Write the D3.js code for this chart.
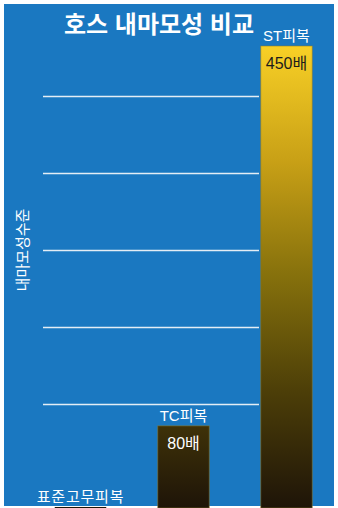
<!DOCTYPE html>
<html>
<head>
<meta charset="utf-8">
<script src="https://cdn.jsdelivr.net/npm/d3@7"></script>
<style>
  html, body { margin: 0; padding: 0; background: #ffffff; }
  svg { display: block; }
  text { font-family: "Liberation Sans", "Noto Sans CJK KR", sans-serif; }
</style>
</head>
<body>
<div id="chart"></div>
<script>
const categories = ["표준고무피복", "TC피복", "ST피복"];
const values = [1, 80, 450];
const valueLabels = ["", "80배", "450배"];
const gridTicks = [100, 175, 250, 325, 400];
const title = "호스 내마모성 비교";
const yTitle = "내마모성수준";

const W = 338, H = 508;
const svg = d3.select("#chart").append("svg").attr("width", W).attr("height", H);

const defs = svg.append("defs");
const grad = defs.append("linearGradient")
  .attr("id", "barGrad").attr("gradientUnits", "userSpaceOnUse")
  .attr("x1", 0).attr("y1", 46).attr("x2", 0).attr("y2", 508);
grad.append("stop").attr("offset", "0%").attr("stop-color", "#f8d026");
grad.append("stop").attr("offset", "25%").attr("stop-color", "#c8a016");
grad.append("stop").attr("offset", "50%").attr("stop-color", "#85700c");
grad.append("stop").attr("offset", "75%").attr("stop-color", "#4c3e08");
grad.append("stop").attr("offset", "100%").attr("stop-color", "#1e1408");

// background
svg.append("rect").attr("x", 0).attr("y", 0).attr("width", W).attr("height", H).attr("fill", "#ffffff");
svg.append("rect").attr("x", 4).attr("y", 4).attr("width", W - 8).attr("height", H - 6).attr("fill", "#1a78c1");

const x = d3.scaleBand().domain(categories).range([29, 338]).paddingInner(0.5).paddingOuter(0.25);
const y = d3.scaleLinear().domain([0, 450]).range([508, 46]);

// grid
svg.append("g").selectAll("line").data(gridTicks).join("line")
  .attr("x1", 43).attr("x2", 259)
  .attr("y1", d => Math.round(y(d)) - 0.5).attr("y2", d => Math.round(y(d)) - 0.5)
  .attr("stroke", "#e4edf5").attr("stroke-width", 1.6);

// bars
svg.append("g").selectAll("rect").data(categories).join("rect")
  .attr("x", d => x(d))
  .attr("y", (d, i) => y(values[i]))
  .attr("width", x.bandwidth())
  .attr("height", (d, i) => y(0) - y(values[i]))
  .attr("fill", "url(#barGrad)")
  .attr("stroke", (d, i) => i === 0 ? "none" : "rgba(140,120,40,0.55)")
  .attr("stroke-width", 1);

// category labels
svg.append("g").selectAll("text").data(categories).join("text")
  .attr("x", d => x(d) + x.bandwidth() / 2)
  .attr("y", (d, i) => i === 0 ? 502 : y(values[i]) - 5)
  .attr("text-anchor", "middle")
  .attr("fill", "#ffffff")
  .attr("font-size", 15)
  .attr("letter-spacing", (d, i) => i === 0 ? 0.8 : 0)
  .text(d => d);

// value labels
svg.append("g").selectAll("text").data(categories).join("text")
  .attr("x", d => x(d) + x.bandwidth() / 2)
  .attr("y", (d, i) => y(values[i]) + 23)
  .attr("text-anchor", "middle")
  .attr("fill", (d, i) => i === 2 ? "#1c1c1c" : "#ffffff")
  .attr("font-size", 16)
  .text((d, i) => valueLabels[i]);

// title
svg.append("text").attr("x", 159).attr("y", 33)
  .attr("text-anchor", "middle").attr("fill", "#ffffff")
  .attr("font-size", 24).attr("font-weight", "bold")
  .attr("font-family", "'Noto Sans CJK KR', sans-serif")
  .text(title);

// y title
svg.append("text")
  .attr("transform", "translate(28,250) rotate(-90)")
  .attr("text-anchor", "middle").attr("fill", "#ffffff")
  .attr("font-size", 15)
  .text(yTitle);
</script>
</body>
</html>
